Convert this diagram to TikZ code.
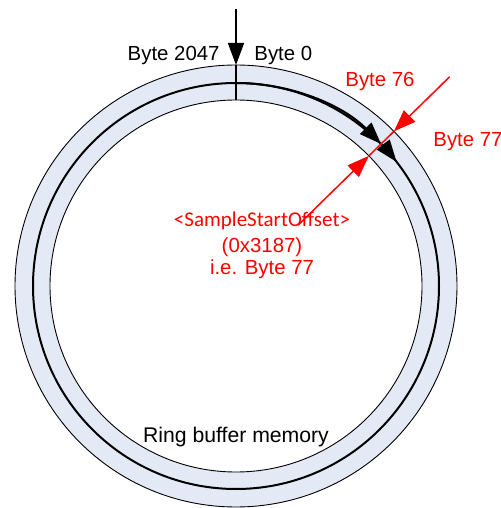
\documentclass[tikz,border=0pt]{standalone}
\usepackage{fontspec}
\setmainfont{Liberation Sans}
\newfontfamily\offsetfont{Carlito}
\usetikzlibrary{arrows.meta,calc}
\definecolor{ringcol}{HTML}{E4EAF5}
\tikzset{
  ring/.style={draw=black,line width=0.45pt,fill=ringcol,even odd rule},
  track/.style={line width=1pt},
  tip/.style={-{Triangle[length=11pt,width=8pt]}},
  ptr/.style={red,line width=0.75pt},
  lbl/.style={font=\fontsize{10.2}{11.8}\selectfont,inner sep=0pt},
}

\begin{document}
\begin{tikzpicture}[x=0.5pt,y=0.5pt]
  \useasboundingbox (-236,-222) rectangle (265,286);
  % ring
  \path[ring] (0,0) circle[radius=221] (0,0) circle[radius=186];
  \draw[track] (0,0) circle[radius=203];
  % start of buffer
  \coordinate (feed) at (0,277);
  \coordinate (rim) at (90:221);
  \coordinate (hub) at (90:186);
  \draw[line width=0.75pt,tip] (feed) -- (rim);
  \draw[line width=0.75pt] (rim) -- (hub);
  % write direction
  \draw[track,tip] (90:203) arc[start angle=90,end angle=44.4,radius=203];
  \draw[track,tip] (44.4:203) arc[start angle=44.4,end angle=37.7,radius=203];
  % offset pointer
  \coordinate (outA) at (44.4:299);
  \coordinate (inA) at (44.4:87);
  \coordinate (hitO) at (44.4:221);
  \coordinate (hitI) at (44.4:186);
  \draw[ptr,tip] (outA) -- (hitO);
  \draw[ptr,tip] (inA) -- (hitI);
  \draw[ptr] (hitO) -- (hitI);
  % labels
  \node[lbl,anchor=base east] (b2047) at (-16,225) {Byte 2047};
  \node[lbl,anchor=base west] (b0) at (18,225) {Byte 0};
  \node[lbl,red,anchor=base west] (b76) at (109,199) {Byte 76};
  \node[lbl,red,anchor=base west] (b77) at (197,139) {Byte 77};
  \node[lbl,red,anchor=base,font=\offsetfont\fontsize{10.5}{12}\selectfont] (off1) at (26,59) {<SampleStartOffset>};
  \node[lbl,red,anchor=base] (off2) at (26,33) {(0x3187)};
  \node[lbl,red,anchor=base] (off3) at (26,11) {i.e. Byte 77};
  \node[lbl,anchor=base,font=\fontsize{10.6}{12}\selectfont] (ringname) at (0,-156) {Ring buffer memory};
\end{tikzpicture}
\end{document}
